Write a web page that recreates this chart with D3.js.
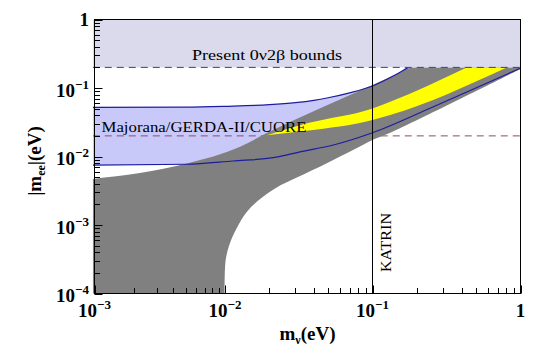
<!DOCTYPE html>
<html>
<head>
<meta charset="utf-8">
<script src="https://cdn.jsdelivr.net/npm/d3@7"></script>
<style>
  body { margin: 0; background: #fff; }
  text { font-family: "Liberation Serif", "Times New Roman", serif; }
</style>
</head>
<body>
<svg id="chart" width="541" height="359"></svg>
<script>
// ---- data (x = lightest mass m_nu, y = |m_ee|, both eV) ----
var xDecades = [1e-3, 1e-2, 1e-1, 1];
var yDecades = [1e-4, 1e-3, 1e-2, 1e-1, 1];
var xTickLabels = [["10", "\u22123"], ["10", "\u22122"], ["10", "\u22121"], ["1", ""]];
var yTickLabels = [["10", "\u22124"], ["10", "\u22123"], ["10", "\u22122"], ["10", "\u22121"], ["1", ""]];

var presentBound = 0.2;   // present 0v2b bound
var futureBound = 0.02;   // Majorana/GERDA-II/CUORE reach
var katrinBound = 0.1;    // KATRIN
var xStart = 0.00097;

// sensitivity band (blue curves)
var upperSens = [[0.00097, 0.052], [0.005, 0.0525], [0.01, 0.054], [0.02, 0.057], [0.03, 0.061],
  [0.04, 0.066], [0.05, 0.072], [0.07, 0.085], [0.1, 0.107], [0.14, 0.152], [0.175, 0.2], [0.3, 0.34], [1, 1.1]];
var lowerSens = [[0.00097, 0.0075], [0.0051, 0.0077], [0.0113, 0.0086], [0.0212, 0.0096], [0.0323, 0.0117],
  [0.0543, 0.0147], [0.1, 0.0222], [0.258, 0.0532], [1, 0.195]];

// allowed region (grey)
var grayTop = [[0.00097, 0.0047], [0.0051, 0.0079], [0.01264, 0.0139], [0.0192, 0.022],
  [0.1, 0.111], [0.1815, 0.2], [1, 1.05]];
var grayBottom = [[1, 0.19], [0.1316, 0.0222], [0.1, 0.0174], [0.0743, 0.0125], [0.049, 0.0080],
  [0.0307, 0.00492], [0.0224, 0.00352], [0.0173, 0.00239], [0.014, 0.00154], [0.012, 0.0009],
  [0.0108, 0.000543], [0.01024, 0.000363], [0.01, 0.000234], [0.01, 0.00001]];
var grayLeft = [[0.01, 0.00001], [0.00097, 0.00001]];

// yellow band
var yellowTop = [[0.0192, 0.0205], [0.0359, 0.0305], [0.1, 0.0504], [0.1316, 0.063], [0.433, 0.2]];
var yellowBottom = [[0.807, 0.2], [0.1316, 0.0403], [0.1, 0.034], [0.0359, 0.0237], [0.0192, 0.0205]];

// ---- scales ----
var svg = d3.select("#chart");

// first decade is squeezed in the original, so the log scale is piecewise
var x = d3.scaleLog().domain(xDecades).range([94.5, 225, 372.5, 520.5]);
var y = d3.scaleLog().domain([1e-4, 1]).range([293.5, 19.5]);

var pLeft = 94.5, pRight = 520.5, pTop = 19.5, pBottom = 293.5;
var fillLeft = x(xStart);

var defs = svg.append("defs");
defs.append("clipPath").attr("id", "plot").append("rect")
    .attr("x", fillLeft).attr("y", pTop).attr("width", pRight - fillLeft).attr("height", pBottom - pTop);
defs.append("clipPath").attr("id", "below").append("rect")
    .attr("x", fillLeft).attr("y", y(presentBound)).attr("width", pRight - fillLeft).attr("height", pBottom - y(presentBound));

function edge(curve) {
    return d3.line().x(function(d) { return x(d[0]); }).y(function(d) { return y(d[1]); }).curve(curve);
}
var lin = edge(d3.curveLinear);
var smooth = edge(d3.curveMonotoneX);
var bendy = edge(d3.curveCatmullRom.alpha(0.5));

// glue several path strings into one outline
function outline() {
    var parts = Array.prototype.slice.call(arguments);
    return parts.map(function(p, i) { return i ? "L" + p.slice(1) : p; }).join("") + "Z";
}

var g = svg.append("g").attr("clip-path", "url(#plot)");
var gb = g.append("g").attr("clip-path", "url(#below)");

// light blue sensitivity band
gb.append("path")
    .attr("d", outline(smooth(upperSens), smooth(lowerSens.slice().reverse())))
    .attr("fill", "#c9c9f9");

// future bound dashed line (sits under the grey)
gb.append("line")
    .attr("x1", fillLeft).attr("x2", pRight)
    .attr("y1", y(futureBound)).attr("y2", y(futureBound))
    .attr("stroke", "#8a4a6e").attr("stroke-width", 1).attr("stroke-dasharray", "7,5");

// grey allowed region
gb.append("path")
    .attr("d", outline(smooth(grayTop), bendy(grayBottom), lin(grayLeft)))
    .attr("fill", "#808080");

// yellow band
gb.append("path")
    .attr("d", outline(smooth(yellowTop), smooth(yellowBottom)))
    .attr("fill", "#ffff00");

// blue curves
[upperSens, lowerSens].forEach(function(c) {
    gb.append("path")
        .attr("d", smooth(c))
        .attr("fill", "none")
        .attr("stroke", "#1c1ca0")
        .attr("stroke-width", 1.2);
});

// present bounds band
g.append("rect")
    .attr("x", fillLeft).attr("y", pTop)
    .attr("width", pRight - fillLeft).attr("height", y(presentBound) - pTop)
    .attr("fill", "#dadaec");

g.append("line")
    .attr("x1", fillLeft).attr("x2", pRight)
    .attr("y1", y(presentBound)).attr("y2", y(presentBound))
    .attr("stroke", "#3c3c8c").attr("stroke-width", 1).attr("stroke-dasharray", "7,5");

// KATRIN line
g.append("line")
    .attr("x1", x(katrinBound)).attr("x2", x(katrinBound))
    .attr("y1", pTop).attr("y2", pBottom)
    .attr("stroke", "#000").attr("stroke-width", 1);

// in-plot labels
svg.append("text")
    .attr("x", 192).attr("y", 60)
    .attr("font-size", 15.5)
    .attr("textLength", 150).attr("lengthAdjust", "spacingAndGlyphs")
    .text("Present 0\u03bd2\u03b2 bounds");

svg.append("text")
    .attr("x", 101.5).attr("y", 131.5)
    .attr("font-size", 15.5)
    .attr("textLength", 205).attr("lengthAdjust", "spacingAndGlyphs")
    .text("Majorana/GERDA-II/CUORE");

svg.append("text")
    .attr("transform", "translate(390.5,272) rotate(-90)")
    .attr("font-size", 15)
    .attr("textLength", 59).attr("lengthAdjust", "spacingAndGlyphs")
    .text("KATRIN");

// ---- axes ----
var xMinor = x.ticks().filter(function(t) { return xDecades.indexOf(t) < 0; });
var yMinor = y.ticks().filter(function(t) { return yDecades.indexOf(t) < 0; });

var ax = svg.append("g");
ax.selectAll(".xt").data(x.ticks()).enter().append("line")
    .attr("x1", function(d) { return Math.round(x(d)) + 0.5; })
    .attr("x2", function(d) { return Math.round(x(d)) + 0.5; })
    .attr("y1", pBottom)
    .attr("y2", function(d) { return pBottom - (xMinor.indexOf(d) < 0 ? 8 : 5.5); })
    .attr("stroke", "#000");
ax.selectAll(".yt").data(y.ticks()).enter().append("line")
    .attr("y1", function(d) { return Math.round(y(d)) + 0.5; })
    .attr("y2", function(d) { return Math.round(y(d)) + 0.5; })
    .attr("x1", pLeft)
    .attr("x2", function(d) { return pLeft + (yMinor.indexOf(d) < 0 ? 8 : 5.5); })
    .attr("stroke", "#000");

svg.append("rect")
    .attr("x", pLeft).attr("y", pTop).attr("width", pRight - pLeft).attr("height", pBottom - pTop)
    .attr("fill", "none").attr("stroke", "#000").attr("stroke-width", 1);

// tick labels
function powLabel(sel, lab) {
    sel.append("tspan").text(lab[0]);
    if (lab[1]) sel.append("tspan").attr("font-size", 13).attr("dy", -8).text(lab[1]);
}

xDecades.forEach(function(v, i) {
    var t = svg.append("text")
        .attr("x", x(v)).attr("y", 316.5)
        .attr("text-anchor", "middle")
        .attr("font-size", 19).attr("font-weight", "bold");
    powLabel(t, xTickLabels[i]);
});

yDecades.forEach(function(v, i) {
    var lab = yTickLabels[i];
    var t = svg.append("text")
        .attr("x", 89).attr("y", y(v) + (lab[1] ? 8.5 : 6.5))
        .attr("text-anchor", "end")
        .attr("font-size", 19).attr("font-weight", "bold");
    powLabel(t, lab);
});

// axis titles
var xt = svg.append("text")
    .attr("x", 307.5).attr("y", 339.5)
    .attr("text-anchor", "middle")
    .attr("font-size", 19).attr("font-weight", "bold");
xt.append("tspan").text("m");
xt.append("tspan").attr("font-size", 12).attr("dy", 4).text("\u03bd");
xt.append("tspan").attr("dy", -4).text("(eV)");

var yt = svg.append("text")
    .attr("transform", "translate(41,161) rotate(-90)")
    .attr("text-anchor", "middle")
    .attr("font-size", 19).attr("font-weight", "bold");
yt.append("tspan").text("|m");
yt.append("tspan").attr("font-size", 12).attr("dy", 4).text("ee");
yt.append("tspan").attr("dy", -4).text("|(eV)");
</script>
</body>
</html>
